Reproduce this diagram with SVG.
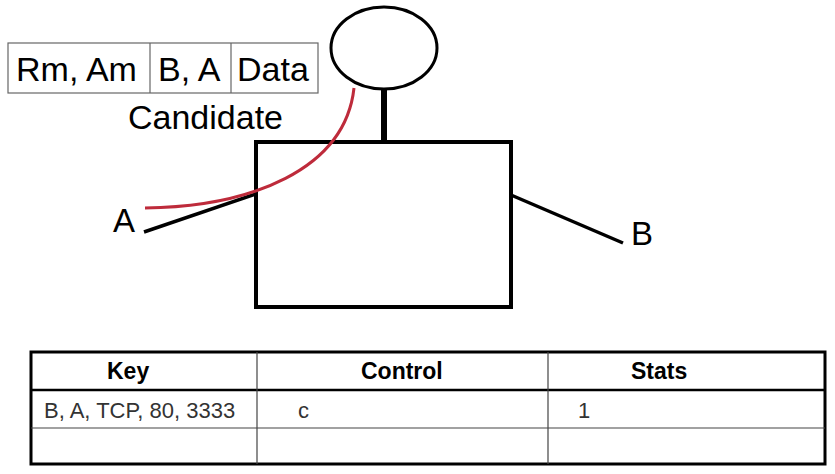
<svg xmlns="http://www.w3.org/2000/svg" width="835" height="474" viewBox="0 0 835 474">
<style>
text{font-family:"Liberation Sans",Arial,sans-serif;fill:#000}
.pkt{fill:#fff;stroke:#666;stroke-width:1.2}
.big{font-size:34px}
.lbl{font-size:33px}
.hdr{font-size:23px;font-weight:bold}
.cell{font-size:22px;fill:#333}
.thin{stroke:#444;stroke-width:1.2}
.wire{stroke:#000;stroke-width:3.5;fill:none}
</style>
<rect width="835" height="474" fill="#fff"/>
<g id="packet">
<rect class="pkt" x="8" y="43" width="310" height="50"/>
<line class="pkt" x1="150" y1="43" x2="150" y2="93"/>
<line class="pkt" x1="231" y1="43" x2="231" y2="93"/>
<text class="big" x="16" y="81">Rm, Am</text>
<text class="big" x="158" y="81">B, A</text>
<text class="big" x="237" y="81">Data</text>
</g>
<g id="candidate-label"><text class="big" x="128" y="129">Candidate</text></g>
<g id="head">
<ellipse cx="384" cy="48" rx="53" ry="41" fill="#fff" stroke="#000" stroke-width="3"/>
<rect x="381" y="89" width="6" height="53" fill="#000"/>
</g>
<g id="box">
<rect x="256" y="142" width="255" height="165" fill="#fff" stroke="#000" stroke-width="4"/>
</g>
<g id="connectors">
<line class="wire" x1="144" y1="232" x2="256" y2="194"/>
<line class="wire" x1="511" y1="195" x2="623" y2="243"/>
<path d="M145,208 C250,207 345,170 354,88" fill="none" stroke="#be2b3b" stroke-width="3"/>
</g>
<g id="labelA"><text class="lbl" x="113" y="232">A</text></g>
<g id="labelB"><text class="lbl" x="631" y="245">B</text></g>
<g id="table">
<rect x="31" y="352" width="794" height="112" fill="#fff" stroke="#000" stroke-width="3"/>
<line x1="31" y1="390" x2="825" y2="390" stroke="#000" stroke-width="2.5"/>
<line class="thin" x1="31" y1="428" x2="825" y2="428"/>
<line class="thin" x1="257" y1="352" x2="257" y2="464"/>
<line class="thin" x1="548" y1="352" x2="548" y2="464"/>
<text class="hdr" x="107" y="379">Key</text>
<text class="hdr" x="361" y="379">Control</text>
<text class="hdr" x="631" y="379">Stats</text>
<text class="cell" x="44" y="418">B, A, TCP, 80, 3333</text>
<text class="cell" x="298" y="418">c</text>
<text class="cell" x="578" y="418">1</text>
</g>
</svg>
